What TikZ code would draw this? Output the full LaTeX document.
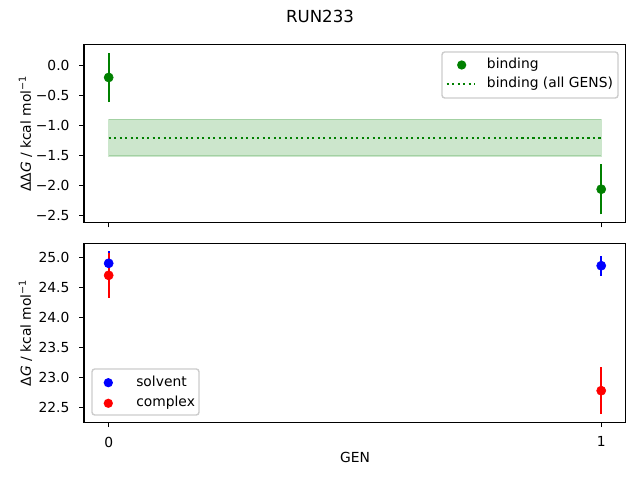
\documentclass[tikz,border=0pt]{standalone}
\usepackage{fontspec}
\setmainfont{DejaVu Sans}
\usepackage{tikz}
\usepackage{pgfplots}
\pgfplotsset{compat=1.18}
\usetikzlibrary{positioning}
\definecolor{mplgreen}{HTML}{008000}
\definecolor{mplblue}{HTML}{0000FF}
\definecolor{mplred}{HTML}{FF0000}

\pgfplotsset{
  genpanel/.style={
    scale only axis, width=5.415in,
    xmin=-0.05, xmax=1.05, xtick={0,1},
    tick pos=left, tick align=outside, major tick length=3.5pt,
    every tick/.style={black, line width=0.8pt},
    axis line style={line width=0.8pt},
    yticklabel style={xshift=-3.5pt},
    xticklabel style={yshift=-3.5pt},
    ylabel style={at={(axis description cs:-0.108,0.5)}, anchor=center},
    anchor=south west,
  },
}
\tikzset{
  errbar/.style={line width=1.5pt},
  dotline/.style={line width=1.5pt, dash pattern=on 1.5pt off 2.475pt},
  legendbox/.style={draw=black!20, fill=white, fill opacity=0.8, rounded corners=2pt, line width=1pt},
  legendtext/.style={anchor=west, inner sep=0pt, text height=0.76em, text depth=0.25em},
  dot/.style={circle, fill, inner sep=0pt, minimum size=6.7pt},
}

\begin{document}
\begin{tikzpicture}[x=0.01in, y=0.01in]
  \useasboundingbox (0,0) rectangle (640,480);

  % Title
  \node (title) at (320,463.5) {\fontsize{12}{14}\selectfont RUN233};

  % Top panel: binding
  \begin{axis}[genpanel, at={(0.84in,2.573in)}, height=1.777in,
      ymin=-2.6145, ymax=0.3445, ytick={-2.5,-2,...,0},
      yticklabels={−2.5,−2.0,−1.5,−1.0,−0.5,0.0}, xticklabels={\empty,\empty},
      ylabel={ΔΔ\textit{G} / kcal mol\textsuperscript{−1}}]
    \filldraw[mplgreen, fill opacity=0.2, draw opacity=0.2, line width=1pt] (0,-1.505) rectangle (1,-0.895);
    \draw[dotline, mplgreen] (0,-1.2) -- (1,-1.2);
    \draw[errbar, mplgreen] (0,-0.61) -- (0,0.21);
    \draw[errbar, mplgreen] (1,-2.48) -- (1,-1.64);
    \addplot[only marks, mark=*, mark size=3.3pt, mplgreen] coordinates {(0,-0.2) (1,-2.06)};
  \end{axis}

  % Bottom panel: solvent and complex
  \begin{axis}[genpanel, at={(0.84in,0.577in)}, height=1.79in,
      ymin=22.2545, ymax=25.2355, ytick={22.5,23,...,25},
      yticklabels={22.5,23.0,23.5,24.0,24.5,25.0}, xticklabels={0,1},
      xlabel={GEN}, xlabel style={at={(axis description cs:0.5,-0.194)}, anchor=center},
      ylabel={Δ\textit{G} / kcal mol\textsuperscript{−1}}]
    \draw[errbar, mplblue] (0,24.7) -- (0,25.1);
    \draw[errbar, mplblue] (1,24.69) -- (1,25.03);
    \draw[errbar, mplred] (0,24.33) -- (0,25.07);
    \draw[errbar, mplred] (1,22.39) -- (1,23.17);
    \addplot[only marks, mark=*, mark size=3.3pt, mplblue] coordinates {(0,24.9) (1,24.86)};
    \addplot[only marks, mark=*, mark size=3.3pt, mplred] coordinates {(0,24.7) (1,22.78)};
  \end{axis}

  % Legend, top panel
  \draw[legendbox] (442,382) rectangle (618,428);
  \node[dot, mplgreen] (bindmark) at (461.7,415) {};
  \node[legendtext] (bindlabel) at (486.7,415) {binding};
  \coordinate (allgenA) at (446.7,395.7);
  \coordinate (allgenB) at (474.3,395.7);
  \draw[dotline, mplgreen] (allgenA) -- (allgenB);
  \node[legendtext] (allgenlabel) at (486.7,395.7) {binding (all GENS)};

  % Legend, bottom panel
  \draw[legendbox] (92,65) rectangle (199,111);
  \node[dot, mplblue] (solvmark) at (108.3,97.3) {};
  \node[legendtext] (solvlabel) at (136,97.3) {solvent};
  \node[dot, mplred] (complmark) at (108.3,76.7) {};
  \node[legendtext] (compllabel) at (136,76.7) {complex};
\end{tikzpicture}
\end{document}
